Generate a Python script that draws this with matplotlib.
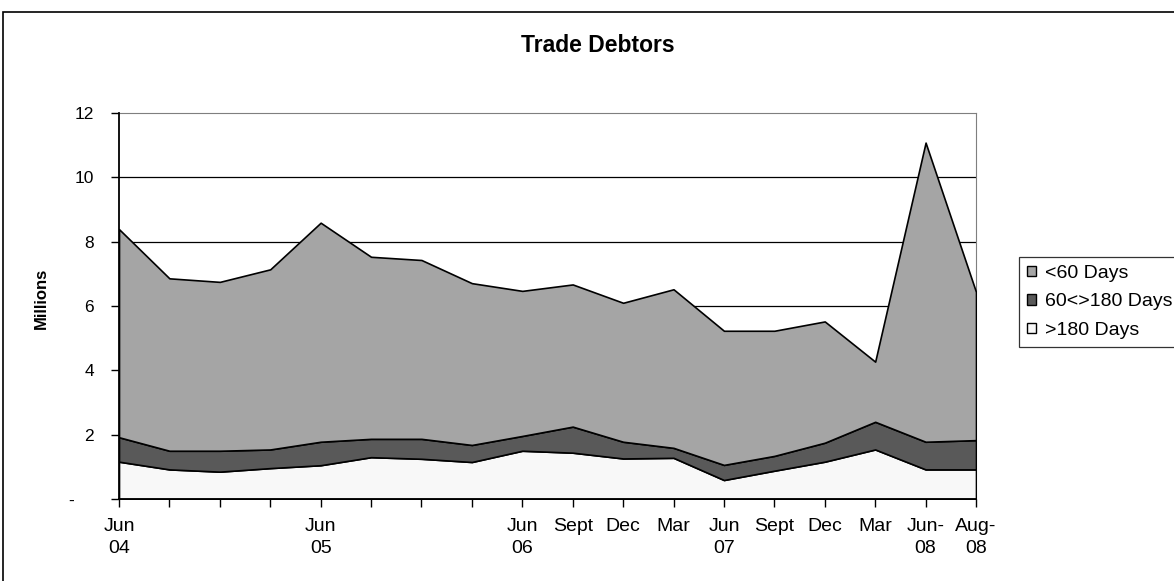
import matplotlib
matplotlib.use("Agg")
import matplotlib.pyplot as plt
from matplotlib.patches import Patch, Rectangle

plt.rcParams['font.family'] = ['Liberation Sans', 'DejaVu Sans']

# stacked series, millions
over_180 = [1.16, 0.92, 0.85, 0.96, 1.05, 1.30, 1.25, 1.15, 1.50,
            1.44, 1.26, 1.28, 0.59, 0.88, 1.16, 1.54, 0.92, 0.92]
mid_totals = [1.92, 1.50, 1.50, 1.54, 1.78, 1.87, 1.87, 1.68, 1.96,
              2.25, 1.78, 1.59, 1.06, 1.34, 1.75, 2.40, 1.78, 1.83]
grand_totals = [8.39, 6.86, 6.75, 7.14, 8.59, 7.53, 7.43, 6.71, 6.47,
                6.67, 6.10, 6.52, 5.23, 5.23, 5.52, 4.27, 11.08, 6.44]

days_60_180 = [m - b for m, b in zip(mid_totals, over_180)]
under_60 = [t - m for t, m in zip(grand_totals, mid_totals)]

x_labels = ["Jun\n04", "", "", "", "Jun\n05", "", "", "", "Jun\n06",
            "Sept", "Dec", "Mar", "Jun\n07", "Sept", "Dec", "Mar",
            "Jun-\n08", "Aug-\n08"]
y_ticks = [0, 2, 4, 6, 8, 10, 12]
y_labels = ["-    ", "2", "4", "6", "8", "10", "12"]

c_top = "#a5a5a5"
c_mid = "#595959"
c_bot = "#f8f8f8"

fig = plt.figure(figsize=(11.74, 5.81), dpi=100)
ax = fig.add_axes([119/1174, 1 - 499/581, (976 - 119)/1174, (499 - 113)/581])

x = list(range(len(grand_totals)))
ax.stackplot(x, over_180, days_60_180, under_60,
             colors=[c_bot, c_mid, c_top], edgecolor="black", linewidth=1.2,
             zorder=3)

for v in y_ticks[1:-1]:
    ax.axhline(v, color="black", lw=0.9, zorder=1)

ax.set_xlim(0, len(x) - 1)
ax.set_ylim(0, 12)
ax.set_yticks(y_ticks)
ax.set_yticklabels(y_labels, fontsize=12.5)
ax.set_xticks(x)
ax.set_xticklabels(x_labels, fontsize=14, linespacing=1.35)
ax.tick_params(axis="both", direction="out", length=6, width=1, color="black")
ax.tick_params(axis="x", pad=8)
ax.tick_params(axis="y", pad=12)

ax.spines["top"].set_color("#7f7f7f")
ax.spines["right"].set_color("#7f7f7f")
for s in ["left", "bottom"]:
    ax.spines[s].set_color("black")
    ax.spines[s].set_linewidth(1.3)
    ax.spines[s].set_zorder(5)

fig.text(41.5/1174, 1 - 298/581, "Millions", rotation=90, ha="center",
         va="center", fontsize=12, fontweight="bold")
fig.text(598/1174, 1 - 52/581, "Trade Debtors", ha="center", va="baseline",
         fontsize=16.5, fontweight="bold")

handles = [Patch(facecolor=c_top, edgecolor="black", label="<60 Days"),
           Patch(facecolor=c_mid, edgecolor="black", label="60<>180 Days"),
           Patch(facecolor=c_bot, edgecolor="black", label=">180 Days")]
leg = fig.legend(handles=handles, loc="upper left",
                 bbox_to_anchor=(1019/1174, 1 - 257/581), fontsize=14,
                 handlelength=0.45, handleheight=0.45, handletextpad=0.48,
                 borderpad=0.4, labelspacing=0.6, borderaxespad=0,
                 frameon=True, fancybox=False)
leg.get_frame().set_edgecolor("black")
leg.get_frame().set_linewidth(0.9)

# outer chart border
fig.patches.append(Rectangle((3/1174, -0.01), 1.0, 1 - 12/581 + 0.01,
                             transform=fig.transFigure, fill=False,
                             edgecolor="black", lw=1.2))

fig.savefig("out.png", dpi=100)
